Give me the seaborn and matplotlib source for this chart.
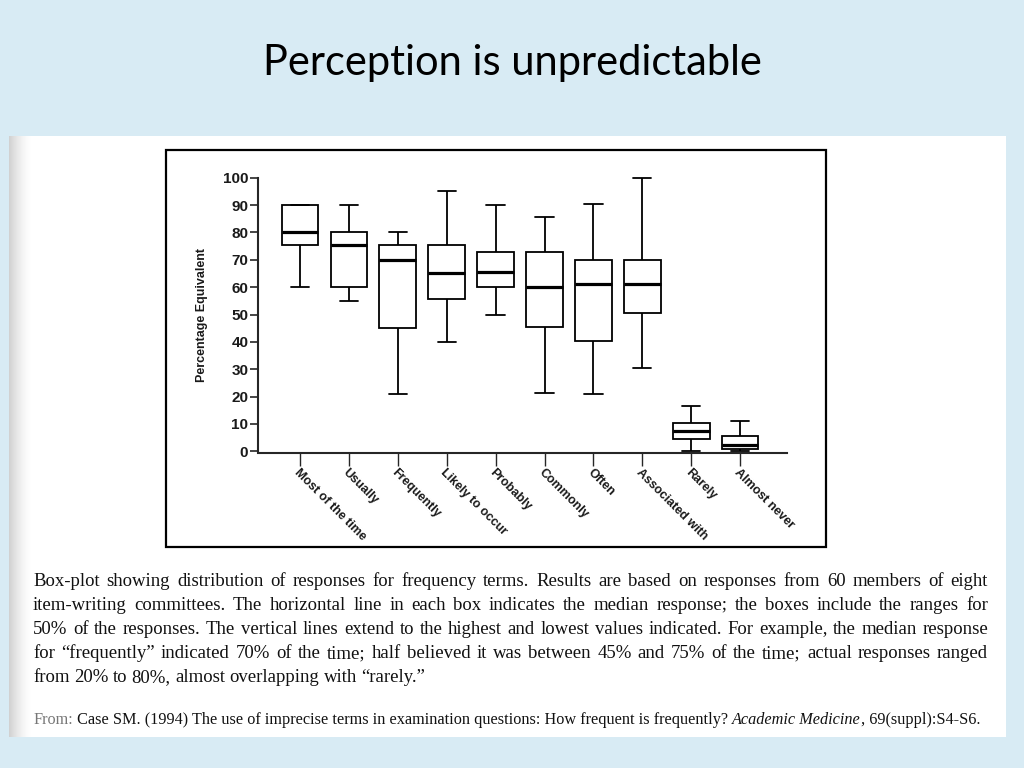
import matplotlib
matplotlib.use('Agg')
import matplotlib.pyplot as plt
import matplotlib.patches as mpatches
import seaborn as sns
import pandas as pd

# values (min, Q1, median, Q3, max)
terms = ['Most of the time', 'Usually', 'Frequently', 'Likely to occur', 'Probably',
         'Commonly', 'Often', 'Associated with', 'Rarely', 'Almost never']
lows = [60, 55, 21, 40, 50, 21.5, 21, 30.5, 0, 0]
q1s = [75.5, 60, 45, 55.5, 60, 45.5, 40.5, 50.5, 4.5, 1]
medians = [80, 75.5, 70, 65, 65.5, 60, 61, 61, 7.5, 2.5]
q3s = [90, 80, 75.5, 75.5, 73, 73, 70, 70, 10.5, 5.5]
highs = [90, 90, 80, 95, 90, 85.5, 90.5, 100, 16.5, 11]
yticks = [0, 10, 20, 30, 40, 50, 60, 70, 80, 90, 100]

caption = [
    'Box-plot showing distribution of responses for frequency terms.  Results are based on responses from 60 members of eight',
    'item-writing committees. The horizontal line in each box indicates the median response; the boxes include the ranges for',
    '50% of the responses.  The vertical lines extend to the highest and lowest values indicated.  For example, the median response',
    'for \u201cfrequently\u201d indicated 70% of the time; half believed it was between 45% and 75% of the time; actual responses ranged',
    'from 20% to 80%, almost overlapping with \u201crarely.\u201d',
]

rows = []
for t, a, b, c, d, e in zip(terms, lows, q1s, medians, q3s, highs):
    for v in (a, b, c, d, e):
        rows.append({'term': t, 'value': v})
df = pd.DataFrame(rows)

sns.set_style('ticks')
plt.rcParams['font.family'] = ['Liberation Sans', 'DejaVu Sans']

W, H = 1024, 768
fig = plt.figure(figsize=(W / 100, H / 100), dpi=100)
fig.patch.set_facecolor('#d8ebf4')


def fx(px):
    return px / W


def fy(py):
    return 1 - py / H


# white scanned page
fig.patches.append(mpatches.Rectangle((fx(9), fy(737)), fx(997), (737 - 136) / H,
                                      transform=fig.transFigure, facecolor='white',
                                      edgecolor='none', zorder=-2))
for i in range(22):
    fig.patches.append(mpatches.Rectangle((fx(9 + i), fy(737)), fx(1), (737 - 136) / H,
                                          transform=fig.transFigure, facecolor='#9a9a9a',
                                          alpha=0.45 * (1 - i / 22) ** 1.5,
                                          edgecolor='none', zorder=-1))
# frame around the figure
fig.patches.append(mpatches.Rectangle((fx(166), fy(547)), fx(660), (547 - 150) / H,
                                      transform=fig.transFigure, facecolor='none',
                                      edgecolor='black', linewidth=1.6, zorder=1))

fig.text(0.5, fy(63), 'Perception is unpredictable', ha='center', va='center',
         fontsize=30, family=['Lato', 'DejaVu Sans'], color='black')

ax = fig.add_axes([fx(258), fy(453), fx(787 - 258), (453 - 176) / H])
ax.patch.set_alpha(0)
sns.boxplot(data=df, x='term', y='value', order=terms, whis=(0, 100), width=0.75,
            color='white', linecolor='black', linewidth=1.3, showfliers=False,
            medianprops={'linewidth': 2.3}, ax=ax)
ax.set_xlim(-0.86, 9.96)
ax.set_ylim(-0.6, 100.6)
ax.set_yticks(yticks)
ax.set_yticklabels([str(v) for v in yticks], fontsize=11, fontweight='bold', color='#1a1a1a')
ax.set_xticks(range(len(terms)))
ax.set_xticklabels(terms, rotation=-45, ha='left', va='top', rotation_mode='anchor',
                   fontsize=9, fontweight='bold', color='#1a1a1a')
ax.tick_params(axis='y', direction='out', length=6, width=1.2, pad=1)
ax.tick_params(axis='x', direction='out', length=9, width=1.0, pad=1)
ax.set_xlabel('')
ax.set_ylabel('Percentage Equivalent', fontsize=9, fontweight='bold', color='#1a1a1a',
              labelpad=11)
sns.despine(ax=ax)
ax.spines['left'].set_bounds(0, 100)
ax.spines['left'].set_linewidth(1.5)
ax.spines['bottom'].set_linewidth(1.5)

# caption, justified line by line
renderer = fig.canvas.get_renderer()
serif = ['Liberation Serif', 'DejaVu Serif']
baselines = [586, 610, 634, 658, 682]
for k, (line, yb) in enumerate(zip(caption, baselines)):
    words = line.split()
    texts = [fig.text(0, fy(yb), w, fontsize=13.5, family=serif, va='baseline', color='#111111')
             for w in words]
    widths = [t.get_window_extent(renderer).width for t in texts]
    if k < len(caption) - 1:
        gap = (988 - 33 - sum(widths)) / (len(words) - 1)
    else:
        gap = texts[0].get_fontsize() * 0.33
    x = 33
    for t, w in zip(texts, widths):
        t.set_x(fx(x))
        x += w + gap

# source line
parts = [('From:', '#777777', 'normal'),
         (' Case SM. (1994) The use of imprecise terms in examination questions: How frequent is frequently? ', '#111111', 'normal'),
         ('Academic Medicine', '#111111', 'italic'),
         (', 69(suppl):S4-S6.', '#111111', 'normal')]
x = 33
for s, c, st in parts:
    t = fig.text(fx(x), fy(724), s, fontsize=11.7, family=serif, style=st, color=c, va='baseline')
    x += t.get_window_extent(renderer).width

fig.savefig('out.png', dpi=100, facecolor=fig.get_facecolor())
